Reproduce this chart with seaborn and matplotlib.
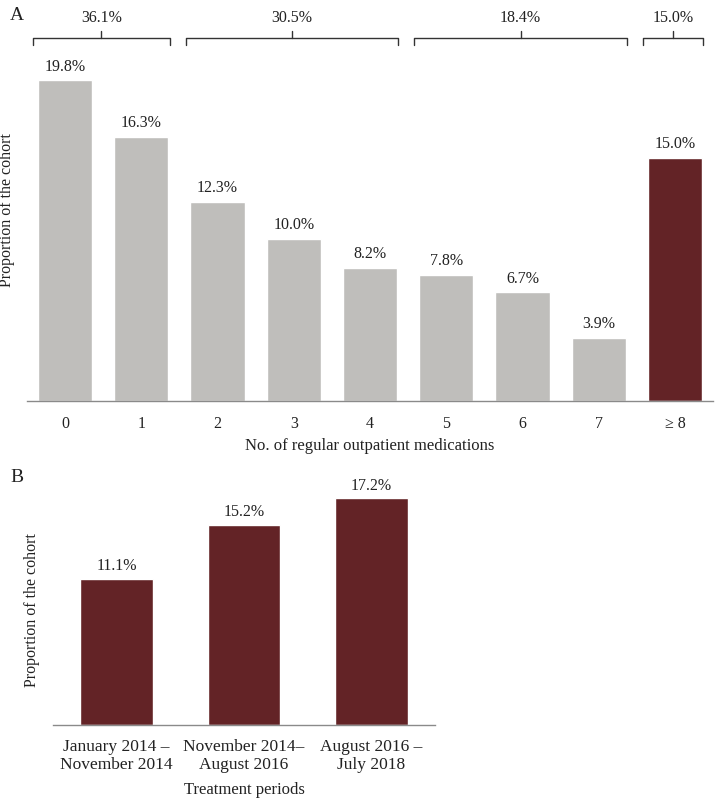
import numpy as np
import pandas as pd
import seaborn as sns
import matplotlib.pyplot as plt
from matplotlib.ticker import FixedLocator

# Panel A data
med_counts = ["0", "1", "2", "3", "4", "5", "6", "7", "\u2265 8"]
med_share = [19.8, 16.3, 12.3, 10.0, 8.2, 7.8, 6.7, 3.9, 15.0]
med_colors = ["#bfbebb"] * 8 + ["#632326"]

# groups shown with braces above panel A: (first index, last index, label)
group_first = [0, 2, 5, 8]
group_last = [1, 4, 7, 8]
group_labels = ["36.1%", "30.5%", "18.4%", "15.0%"]

# Panel B data
periods = ["January 2014 \u2013\nNovember 2014", "November 2014\u2013\nAugust 2016",
           "August 2016 \u2013\nJuly 2018"]
period_share = [11.1, 15.2, 17.2]

sns.set_theme(style="white")
plt.rcParams["font.family"] = ["Liberation Serif", "DejaVu Serif"]
spine_col = "#8a8a8a"
txt_col = "#222222"

fig = plt.figure(figsize=(7.15, 7.99), dpi=100)


def style_axis(ax, n, size, pad):
    for s in ["top", "right", "left"]:
        ax.spines[s].set_visible(False)
    ax.spines["bottom"].set_color(spine_col)
    ax.spines["bottom"].set_linewidth(1.0)
    ax.set_xlim(-0.5, n - 0.5)
    ax.set_yticks([])
    ax.tick_params(axis="x", which="major", length=0, pad=pad, labelsize=size, colors=txt_col)
    ax.xaxis.set_minor_locator(FixedLocator(np.arange(-0.5, n, 1.0)))
    ax.tick_params(axis="x", which="minor", length=4, width=1.0, color=spine_col, direction="out")


# ---- Panel A ----
axA = fig.add_axes([27 / 715, 1 - 401 / 799, 686 / 715, 391 / 799])
dfA = pd.DataFrame({"n": med_counts, "p": med_share})
sns.barplot(data=dfA, x="n", y="p", hue="n", palette=med_colors, width=0.71,
            legend=False, ax=axA, saturation=1)
axA.set_ylim(0, 391 / 16.2)
style_axis(axA, len(med_counts), 11.5, 11)
axA.set_xlabel("No. of regular outpatient medications", fontsize=12, color=txt_col, labelpad=4)
axA.set_ylabel("Proportion of the cohort", fontsize=11.5, color=txt_col)
axA.yaxis.set_label_coords(-0.018, 0.488)
for i, v in enumerate(med_share):
    axA.text(i, v + 0.35, f"{v:.1f}%", ha="center", va="bottom", fontsize=11.5, color=txt_col)

# braces
line_y = (401 - 38) / 16.2
end_y = (401 - 45) / 16.2
mid_y = (401 - 31) / 16.2
lab_y = (401 - 26) / 16.2
for a, b, lab in zip(group_first, group_last, group_labels):
    x0 = a - 0.42
    x1 = b + 0.37
    xm = (x0 + x1) / 2
    axA.plot([x0, x0, x1, x1], [end_y, line_y, line_y, end_y], color="#333333", lw=1.0,
             clip_on=False, solid_joinstyle="round")
    axA.plot([xm, xm], [line_y, mid_y], color="#333333", lw=1.0, clip_on=False)
    axA.text(xm, lab_y, lab, ha="center", va="bottom", fontsize=11.5, color=txt_col)

fig.text(10 / 715, 1 - 15 / 799, "A", fontsize=14, color=txt_col, va="center")

# ---- Panel B ----
axB = fig.add_axes([53 / 715, 1 - 725 / 799, 382 / 715, 245 / 799])
dfB = pd.DataFrame({"t": periods, "p": period_share})
sns.barplot(data=dfB, x="t", y="p", color="#632326", width=0.57, ax=axB, saturation=1)
axB.set_ylim(0, 245 / 13.17)
style_axis(axB, len(periods), 12.5, 10)
for lab in axB.get_xticklabels():
    lab.set_linespacing(1.15)
axB.set_xlabel("Treatment periods", fontsize=12, color=txt_col, labelpad=7)
axB.set_ylabel("Proportion of the cohort", fontsize=11.5, color=txt_col)
axB.yaxis.set_label_coords(-0.033, 0.469)
for i, v in enumerate(period_share):
    axB.text(i, v + 0.35, f"{v:.1f}%", ha="center", va="bottom", fontsize=11.5, color=txt_col)

fig.text(10 / 715, 1 - 478 / 799, "B", fontsize=14, color=txt_col, va="center")

fig.savefig("out.png", dpi=100, facecolor="white")
